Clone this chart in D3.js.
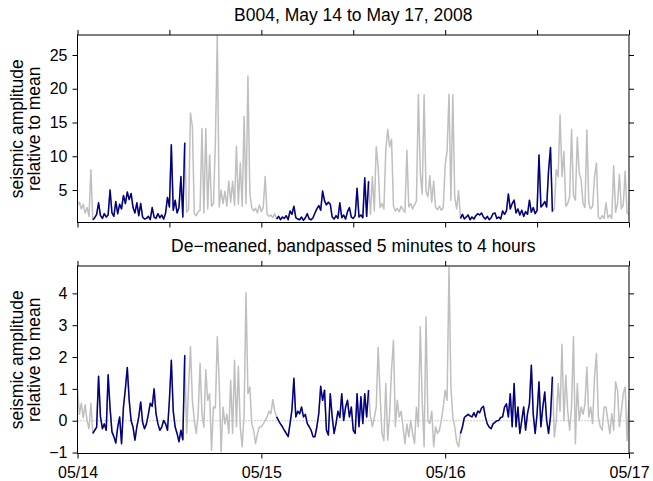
<!DOCTYPE html>
<html>
<head>
<meta charset="utf-8">
<script src="https://cdn.jsdelivr.net/npm/d3@7"></script>
<style>
body{margin:0;background:#fff;}
svg{display:block;font-family:"Liberation Sans",Arial,Helvetica,sans-serif;}
</style>
</head>
<body>
<svg id="chart" width="653" height="481"></svg>
<script>
let parseTime = d3.timeParse("%Y-%m-%d %H:%M");

let startTime = "2008-05-14 00:00";
let endTime = "2008-05-17 00:00";
let stepMinutes = 15;

// hours after start where the trace is drawn dark (02:00 to 14:00 each day)
let darkWindows = [[2, 14], [26, 38], [50, 62]];

let titles = ["B004, May 14 to May 17, 2008", "De\u2212meaned, bandpassed 5 minutes to 4 hours"];
let yLabel = ["seismic amplitude", "relative to mean"];

let dayTicks = ["2008-05-14 00:00", "2008-05-15 00:00", "2008-05-16 00:00", "2008-05-17 00:00"];
let halfDayTicks = ["2008-05-14 00:00", "2008-05-14 12:00", "2008-05-15 00:00", "2008-05-15 12:00",
  "2008-05-16 00:00", "2008-05-16 12:00", "2008-05-17 00:00"];
let topTicks = [5, 10, 15, 20, 25];
let bottomTicks = [-1, 0, 1, 2, 3, 4];

// seismic amplitude / mean, one value every 15 minutes
let rawAmp = [
2.8,3.2,2.2,2.9, 1.6,2.4,1.1,8.0, 0.6,0.9,1.4,3.1, 1.2,0.8,1.5,1.0,
1.3,5.0,1.6,1.1, 3.3,1.5,2.9,2.2, 4.2,3.0,4.7,3.6, 4.5,2.4,1.6,3.1,
1.2,3.0,1.0,0.7, 0.8,1.1,0.6,2.4, 1.0,0.8,1.5,0.9, 1.3,0.7,1.6,3.9,
2.5,11.7,2.0,3.5, 1.6,2.4,7.0,1.0, 12.0,1.7,2.1,16.4, 14.4,1.5,1.2,1.8,
2.0,14.1,1.6,14.1, 2.2,10.2,2.6,3.0, 12.0,27.9,2.5,5.0, 3.0,4.8,2.6,6.3,
3.2,6.3,2.7,11.5, 2.9,9.0,2.6,15.9, 3.0,21.9,4.5,2.4, 1.9,2.3,1.6,2.8,
1.8,2.4,7.0,1.4, 1.1,1.3,0.9,1.5, 0.7,1.1,0.6,1.0, 0.8,1.2,0.6,1.9,
1.4,2.6,0.9,0.7, 0.6,1.0,0.5,0.9, 1.5,0.7,0.6,0.9, 1.6,2.2,2.7,2.0,
4.85,3.4,2.8,3.2, 2.9,1.0,0.7,1.2, 0.8,3.1,0.9,1.3, 0.7,1.8,2.4,1.0,
0.8,1.2,5.25,1.0, 1.3,0.9,6.8,1.1, 6.3,1.4,7.0,1.9, 11.4,8.5,2.4,3.0,
2.2,10.9,14.0,11.4, 12.5,2.6,1.9,2.3, 1.8,2.6,2.1,1.7, 10.9,2.5,3.0,2.2,
2.8,3.4,19.2,7.6, 4.4,19.1,4.8,4.0, 7.1,3.2,6.3,2.4, 2.1,2.6,2.0,2.4,
8.7,10.7,19.2,3.5, 19.1,4.0,2.2,4.9, 0.8,1.4,0.7,1.0, 1.3,0.6,1.0,0.7,
1.2,1.5,1.3,1.6, 1.0,0.7,1.1,0.6, 0.9,1.5,1.6,0.8, 1.0,0.7,1.9,1.4,
1.9,4.4,2.2,3.0, 3.5,1.6,2.2,1.3, 2.0,1.1,1.8,1.4, 3.5,1.7,2.4,1.5,
2.0,10.2,2.5,2.8, 3.3,2.5,7.9,11.3, 1.8,2.2,8.0,7.0, 16.1,7.0,10.7,2.6,
3.0,4.0,14.0,4.2, 3.5,12.8,7.5,6.5, 3.0,2.4,13.9,3.1, 2.2,2.6,7.0,9.0,
1.0,0.7,1.2,0.8, 3.1,0.9,1.3,0.8, 8.6,1.7,3.0,7.3, 2.2,2.8,7.8,1.6,
1.4
];

// de-meaned, bandpassed 5 min to 4 h, one value every 15 minutes
let bandAmp = [
1.0,0.2,0.55,0.1, 0.5,0.0,-0.25,0.55, -0.4,-0.3,-0.2,1.40, 0.12,-0.25,-0.1,-0.3,
1.44,0.4,-0.35,-0.5, -0.7,-0.2,0.12,-0.72, 0.43,1.0,1.67,0.64, 0.0,-0.2,-0.61,-0.19,
0.12,0.59,-0.05,-0.25, -0.1,0.2,0.55,0.45, 1.0,0.22,-0.1,-0.3, -0.2,0.01,-0.1,-0.3,
0.66,1.9,0.3,-0.2, -0.4,-0.66,-0.3,-0.6, 2.06,-0.4,1.06,2.32, 0.64,0.0,-0.4,0.2,
1.8,0.22,-0.2,1.6, 0.64,0.85,-0.93,0.43, 0.4,2.64,1.2,-0.98, 0.43,-0.1,0.2,-0.4,
1.27,-0.4,1.9,-0.19, 1.7,-0.2,-0.82,0.2, 4.02,0.85,1.06,-0.1, -0.3,-0.72,-0.4,-0.2,
-0.19,-0.1,0.0,0.12, 0.3,0.22,0.66,0.3, 0.12,0.0,-0.1,-0.19, -0.3,-0.4,-0.5,-0.09,
0.35,1.33,0.12,0.3, 0.22,0.43,0.12,0.2, -0.09,-0.19,-0.3,-0.5, -0.5,-0.19,0.22,1.08,
0.64,0.96,-0.3,-0.45, 0.85,0.12,-0.4,-0.09, 0.3,0.1,0.85,0.01, 0.43,0.64,0.12,0.43,
-0.3,-0.4,0.85,-0.19, 0.75,-0.09,0.85,0.12, 0.96,0.12,-0.19,0.1, 0.43,2.3,0.85,-0.4,
-0.63,1.17,-0.61,0.22, 1.6,2.53,-0.19,0.64, 0.12,0.3,-0.2,-0.72, -0.1,-0.5,0.0,-0.4,
-0.72,0.43,-0.19,2.95, 0.64,-0.82,3.26,0.0, -0.09,0.3,-0.82,-0.19, -0.4,-0.3,0.01,0.43,
0.96,0.64,4.82,1.06, 0.12,-0.19,-0.66,-0.82, -0.4,-0.2,0.1,0.15, 0.2,0.15,0.12,0.25,
0.12,0.3,0.25,0.4, 0.45,0.12,-0.1,-0.2, -0.25,-0.1,-0.05,0.0, 0.01,0.1,0.12,0.43,
0.53,0.12,0.85,-0.19, 1.17,-0.19,0.43,-0.4, 0.01,0.43,-0.3,0.22, 0.53,1.74,0.2,-0.4,
0.22,1.22,-0.19,0.43, 0.9,0.01,-0.4,0.12, 1.38,-0.51,0.0,1.17, 0.3,2.4,0.0,1.43,
0.3,-0.3,0.43,2.64, -0.72,1.17,0.01,0.43, 0.2,0.53,1.69,0.12, 0.43,-0.09,1.38,2.11,
0.12,-0.19,-0.3,0.43, 0.43,0.0,-0.4,0.22, -0.3,1.22,0.96,-0.19, 0.3,0.85,1.06,-0.63,
0.64
];

let W = 653, H = 481;
let left = 77.5, right = 629;
let panels = [
  {values: rawAmp, top: 35, bottom: 222.5, domain: [0.19, 27.96], yTicks: topTicks, xTicks: halfDayTicks, labels: false, zero: false, title: titles[0], titleY: 20.5},
  {values: bandAmp, top: 266, bottom: 453.5, domain: [-1.03, 4.86], yTicks: bottomTicks, xTicks: dayTicks, labels: true, zero: true, title: titles[1], titleY: 251.5}
];

let navy = "#000080", grey = "#bfbfbf";
let tickFont = 16, labelFont = 17.5;

let svg = d3.select("#chart");
svg.append("rect").attr("width", W).attr("height", H).attr("fill", "#fff");

let t0 = parseTime(startTime);
let x = d3.scaleTime().domain([t0, parseTime(endTime)]).range([left, right]);
let fmt = d3.timeFormat("%m/%d");

panels.forEach(function(p, k) {
  let y = d3.scaleLinear().domain(p.domain).range([p.bottom, p.top]);
  let pts = p.values.map(function(v, i) {
    return {h: i * stepMinutes / 60, t: d3.timeMinute.offset(t0, i * stepMinutes), v: v};
  });

  let clipId = "clip" + k;
  svg.append("clipPath").attr("id", clipId).append("rect")
    .attr("x", left).attr("y", p.top).attr("width", right - left).attr("height", p.bottom - p.top);

  let g = svg.append("g").attr("clip-path", "url(#" + clipId + ")");

  if (p.zero) {
    g.append("line").attr("x1", left).attr("x2", right).attr("y1", y(0)).attr("y2", y(0))
      .attr("stroke", "#7f7f7f").attr("stroke-width", 0.8).attr("stroke-dasharray", "1,2");
  }

  let line = d3.line().x(d => x(d.t)).y(d => y(d.v));

  g.append("path").datum(pts).attr("d", line)
    .attr("fill", "none").attr("stroke", grey).attr("stroke-width", 1.5).attr("stroke-linejoin", "round");

  darkWindows.forEach(function(w) {
    let seg = pts.filter(d => d.h >= w[0] && d.h <= w[1]);
    g.append("path").datum(seg).attr("d", line)
      .attr("fill", "none").attr("stroke", navy).attr("stroke-width", 1.5).attr("stroke-linejoin", "round");
  });

  let xt = p.xTicks.map(parseTime);

  let axL = svg.append("g").attr("transform", "translate(" + left + ",0)")
    .call(d3.axisLeft(y).tickValues(p.yTicks).tickSizeInner(5).tickSizeOuter(0).tickPadding(5)
      .tickFormat(d => d < 0 ? "\u2212" + Math.abs(d) : d));
  let axR = svg.append("g").attr("transform", "translate(" + right + ",0)")
    .call(d3.axisRight(y).tickValues(p.yTicks).tickSizeInner(5).tickSizeOuter(0).tickFormat(""));
  let axT = svg.append("g").attr("transform", "translate(0," + p.top + ")")
    .call(d3.axisTop(x).tickValues(xt).tickSizeInner(5).tickSizeOuter(0).tickFormat(""));
  let axB = svg.append("g").attr("transform", "translate(0," + p.bottom + ")")
    .call(d3.axisBottom(x).tickValues(xt).tickSizeInner(5).tickSizeOuter(0).tickPadding(8)
      .tickFormat(p.labels ? fmt : ""));

  [axL, axR, axT, axB].forEach(function(a) {
    a.select(".domain").remove();
    a.selectAll("line").attr("stroke", "#000");
    a.selectAll("text").attr("fill", "#000")
      .style("font-family", "'Liberation Sans', Arial, sans-serif").style("font-size", tickFont + "px");
  });

  svg.append("rect").attr("x", left).attr("y", p.top).attr("width", right - left).attr("height", p.bottom - p.top)
    .attr("fill", "none").attr("stroke", "#000").attr("stroke-width", 1);

  svg.append("text").attr("x", (left + right) / 2).attr("y", p.titleY)
    .attr("text-anchor", "middle").style("font-size", labelFont + "px").text(p.title);

  let cy = (p.top + p.bottom) / 2;
  yLabel.forEach(function(s, j) {
    svg.append("text").attr("transform", "translate(" + (23 + j * 16.5) + "," + cy + ") rotate(-90)")
      .attr("text-anchor", "middle").style("font-size", labelFont + "px").text(s);
  });
});
</script>
</body>
</html>
